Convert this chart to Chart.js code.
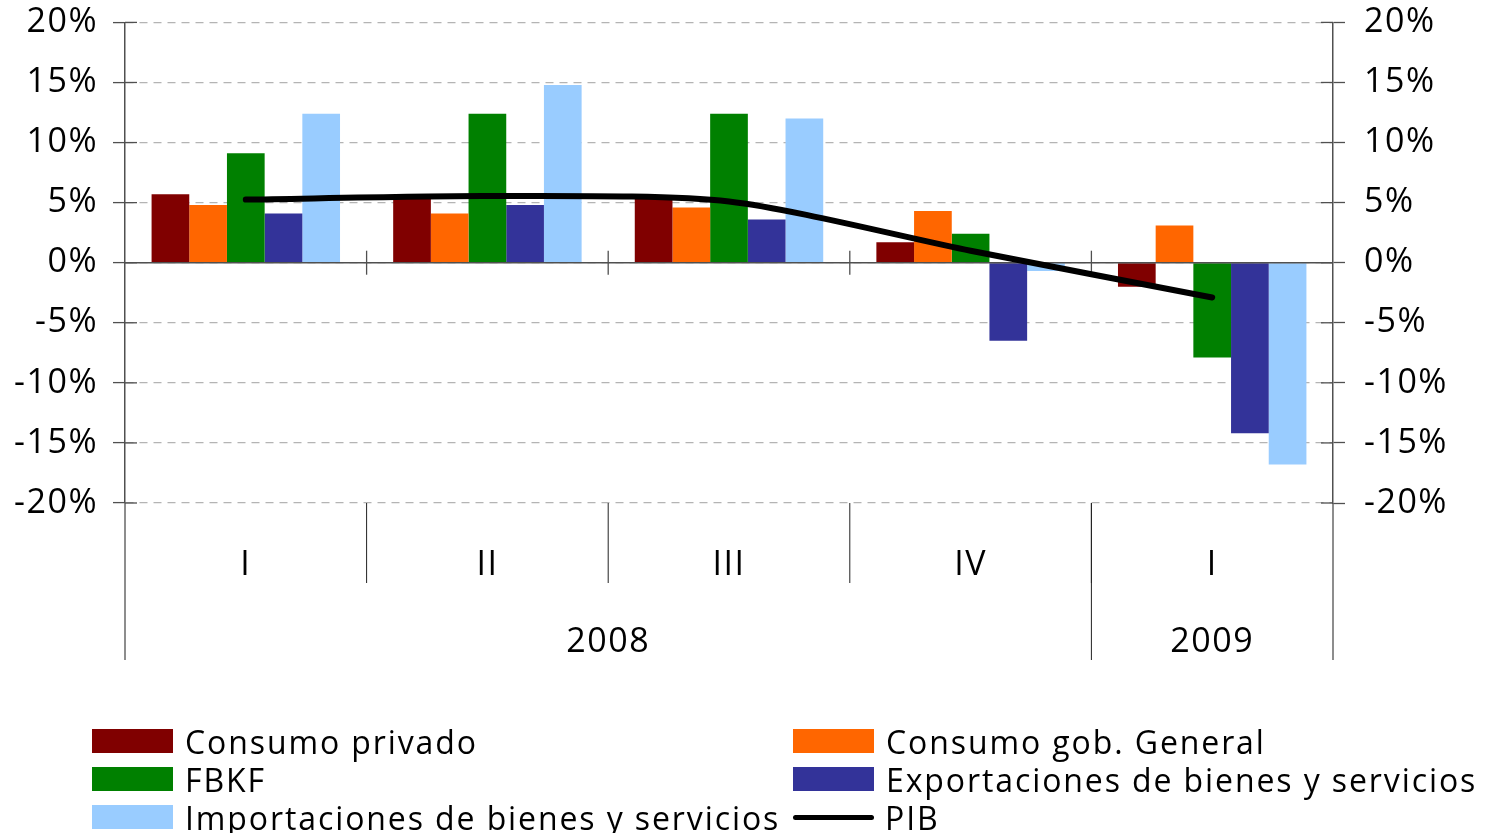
<!DOCTYPE html>
<html><head><meta charset="utf-8">
<script src="https://cdn.jsdelivr.net/npm/chart.js@4.4.0/dist/chart.umd.min.js"></script>
<style>
html,body{margin:0;padding:0;background:#fff;}
#wrap{position:relative;width:1486px;height:833px;overflow:hidden;background:#fff;}
#c{position:absolute;left:0;top:-17px;}
.item{position:absolute;display:flex;align-items:center;white-space:nowrap;font-family:'Open Sans';font-size:32px;color:#000;letter-spacing:1.9px;height:38px;}
.sw{width:81px;height:24px;margin-right:12px;flex:none;}
.ln{width:81px;height:5px;border-radius:3px;margin-right:11px;flex:none;}
</style></head><body>
<div id="wrap"><canvas id="c" width="1486" height="850"></canvas><div id="legend"></div></div>
<script>
// ---- data ----
const quarterLabels = ['I', 'II', 'III', 'IV', 'I'];
const yearLabels = ['2008', '2009'];
const quartersPerYear = [4, 1];
const yTickSuffix = '%';

const consumoPrivado   = [5.7, 5.3, 5.3, 1.7, -2.0];
const consumoGobierno  = [4.8, 4.1, 4.6, 4.3, 3.1];
const fbkf             = [9.1, 12.4, 12.4, 2.4, -7.9];
const exportaciones    = [4.1, 4.8, 3.6, -6.5, -14.2];
const importaciones    = [12.4, 14.8, 12.0, -0.7, -16.8];
const pib              = [5.25, 5.55, 5.1, 1.0, -2.9];

const seriesNames = ['Consumo privado', 'Consumo gob. General', 'FBKF',
  'Exportaciones de bienes y servicios', 'Importaciones de bienes y servicios', 'PIB'];
const seriesColors = ['#800000', '#FF6600', '#008000', '#333399', '#99CCFF', '#000000'];

const yearCenters = [];
{ let start = -0.5; quartersPerYear.forEach(n => { yearCenters.push(start + n / 2); start += n; }); }
const yearBounds = [-0.5];
{ let s = -0.5; quartersPerYear.forEach(n => { s += n; yearBounds.push(s); }); }

const FONT = {family: 'Open Sans', size: 34};
const AXIS = '#505050';

const decor = {
  id: 'decor',
  beforeDraw(chart) { chart.ctx.letterSpacing = '1.5px'; },
  beforeDatasetDraw(chart, args) {
    if (args.index !== 5) return;
    const ctx = chart.ctx, y = chart.scales.y, x = chart.scales.x;
    const ca = chart.chartArea;
    const y0 = y.getPixelForValue(0);
    ctx.save();
    ctx.strokeStyle = AXIS; ctx.lineWidth = 1.6; ctx.setLineDash([]);
    ctx.beginPath(); ctx.moveTo(ca.left, y0); ctx.lineTo(ca.right, y0); ctx.stroke();
    ctx.lineWidth = 1.3;
    for (let i = 1; i < quarterLabels.length; i++) {
      const px = (x.getPixelForValue(i - 1) + x.getPixelForValue(i)) / 2;
      ctx.beginPath(); ctx.moveTo(px, y0 - 12); ctx.lineTo(px, y0 + 12); ctx.stroke();
    }
    ctx.restore();
  },
  afterDraw(chart) {
    const ctx = chart.ctx, y = chart.scales.y, x2 = chart.scales.x2, x = chart.scales.x;
    const ca = chart.chartArea;
    ctx.save();
    ctx.strokeStyle = AXIS; ctx.lineWidth = 1.3; ctx.setLineDash([]);
    y.ticks.forEach(t => {
      const py = y.getPixelForValue(t.value);
      ctx.beginPath(); ctx.moveTo(ca.left, py); ctx.lineTo(ca.left + 12, py); ctx.stroke();
      ctx.beginPath(); ctx.moveTo(ca.right - 12, py); ctx.lineTo(ca.right, py); ctx.stroke();
    });
    [ca.left, ca.right].forEach(px => { ctx.beginPath(); ctx.moveTo(px, ca.bottom); ctx.lineTo(px, x2.bottom); ctx.stroke(); });
    ctx.strokeStyle = '#222'; ctx.lineWidth = 1;
    for (let i = 1; i < quarterLabels.length; i++) {
      const px = x2.getPixelForValue(i - 0.5);
      ctx.beginPath(); ctx.moveTo(px, ca.bottom); ctx.lineTo(px, x.bottom); ctx.stroke();
    }
    yearBounds.slice(1, -1).forEach(b => {
      const px = x2.getPixelForValue(b);
      ctx.beginPath(); ctx.moveTo(px, ca.bottom); ctx.lineTo(px, x2.bottom); ctx.stroke();
    });
    ctx.restore();
  }
};

const barDs = (i, data) => ({
  type: 'bar', label: seriesNames[i], data, backgroundColor: seriesColors[i],
  borderWidth: 0, categoryPercentage: 0.78, barPercentage: 1.0, order: 1
});

const chart = new Chart(document.getElementById('c'), {
  data: {
    labels: quarterLabels,
    datasets: [
      barDs(0, consumoPrivado), barDs(1, consumoGobierno), barDs(2, fbkf),
      barDs(3, exportaciones), barDs(4, importaciones),
      { type: 'line', label: seriesNames[5], data: pib, borderColor: seriesColors[5],
        borderWidth: 6, pointRadius: 0, tension: 0.25, borderCapStyle: 'round',
        borderJoinStyle: 'round', order: 0 }
    ]
  },
  options: {
    responsive: false, animation: false,
    layout: { padding: { top: 5, bottom: 173, left: 0, right: 0 } },
    plugins: { legend: { display: false }, tooltip: { enabled: false } },
    scales: {
      x: {
        type: 'category', position: 'bottom', offset: true, weight: 0,
        grid: { display: false, drawTicks: false }, border: { display: false },
        ticks: { color: '#000', font: FONT, padding: 42, maxRotation: 0, autoSkip: false },
        afterFit(s) { s.height = 80; }
      },
      x2: {
        type: 'linear', axis: 'x', position: 'bottom', min: -0.5, max: 4.5, weight: 1,
        grid: { display: false, drawTicks: false }, border: { display: false },
        afterBuildTicks(s) { s.ticks = yearCenters.map(v => ({ value: v })); },
        ticks: { color: '#000', font: FONT, padding: 39, maxRotation: 0, autoSkip: false,
          callback: (v, i) => yearLabels[i] },
        afterFit(s) { s.height = 77; }
      },
      y: {
        position: 'left', min: -20, max: 20,
        afterBuildTicks(s) { const t = []; for (let v = -20; v <= 20; v += 5) t.push({ value: v }); s.ticks = t; },
        ticks: { color: '#000', font: FONT, padding: 15, callback: v => v + yTickSuffix },
        grid: { color: '#b4b4b4', lineWidth: 1.2, tickLength: 12, tickColor: AXIS, tickWidth: 1.3, tickBorderDash: [] },
        border: { display: true, color: AXIS, width: 1.5, dash: [8, 6] },
        afterFit(s) { s.width = 125; }
      },
      y2: {
        position: 'right', min: -20, max: 20,
        afterBuildTicks(s) { const t = []; for (let v = -20; v <= 20; v += 5) t.push({ value: v }); s.ticks = t; },
        ticks: { color: '#000', font: FONT, padding: 19, callback: v => v + yTickSuffix },
        grid: { drawOnChartArea: false, tickLength: 12, tickColor: AXIS, tickWidth: 1.3 },
        border: { display: true, color: AXIS, width: 1.5 },
        afterFit(s) { s.width = 153; }
      }
    }
  },
  plugins: [decor]
});

const legend = document.getElementById('legend');
const colLeft = [92, 793], rowTop = [722, 760, 798];
chart.data.datasets.forEach((ds, i) => {
  const it = document.createElement('div');
  it.className = 'item';
  it.style.left = colLeft[i % 2] + 'px';
  it.style.top = rowTop[Math.floor(i / 2)] + 'px';
  const sw = document.createElement('div');
  if (ds.type === 'line') { sw.className = 'ln'; sw.style.background = ds.borderColor; }
  else { sw.className = 'sw'; sw.style.background = ds.backgroundColor; }
  it.appendChild(sw);
  const tx = document.createElement('span'); tx.textContent = ds.label;
  it.appendChild(tx);
  legend.appendChild(it);
});
</script>
</body></html>
